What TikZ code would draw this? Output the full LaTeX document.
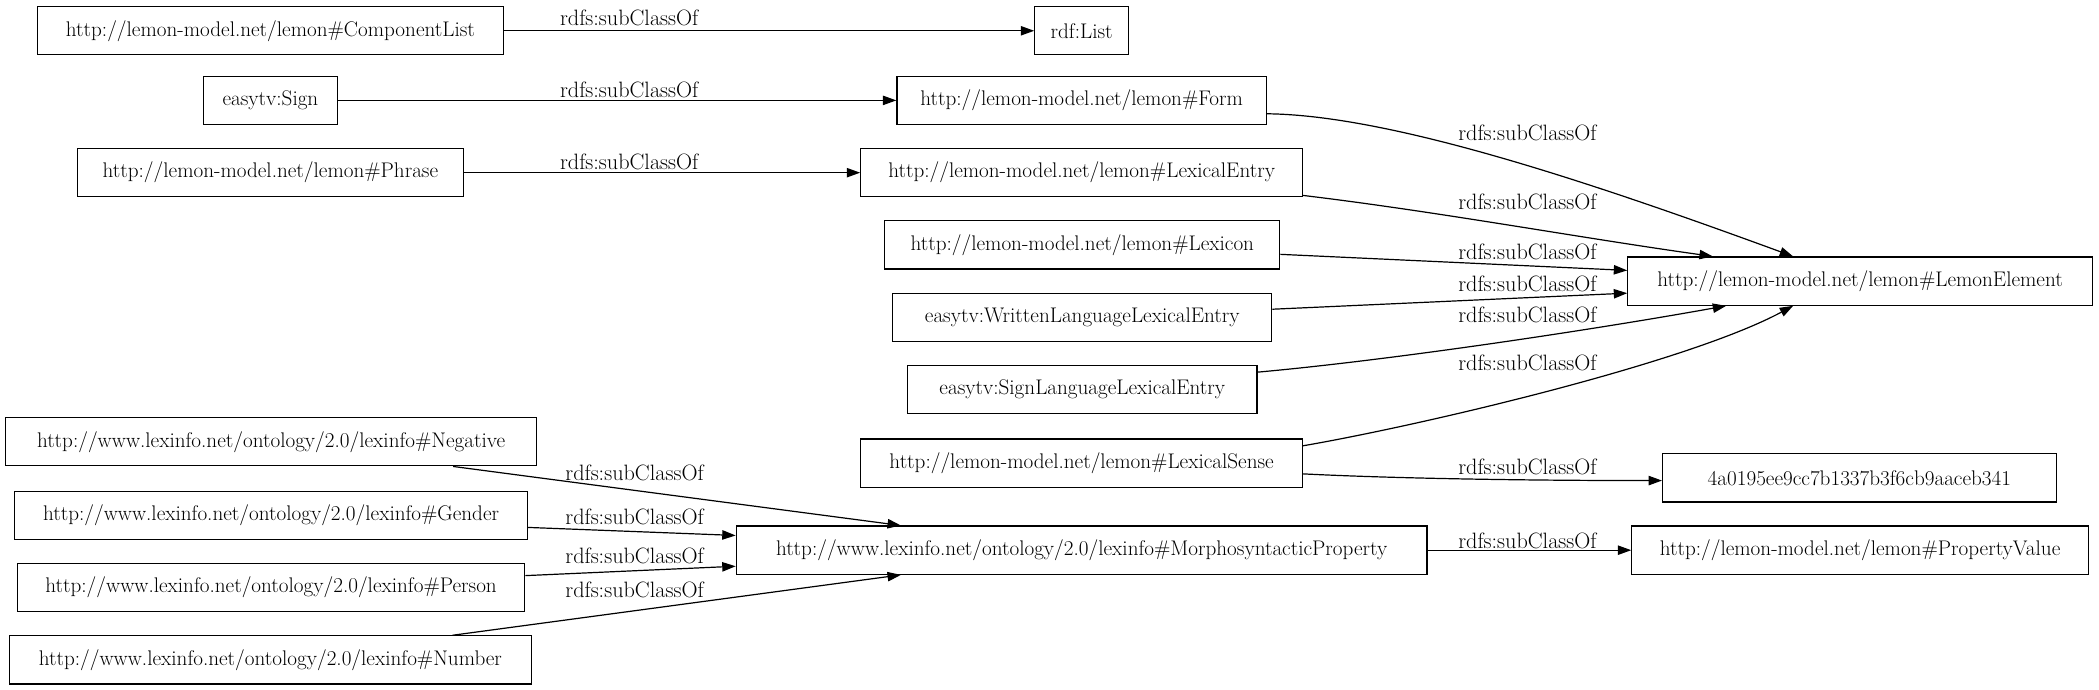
\documentclass[tikz,border=0pt]{standalone}
\usepackage{fontspec}
\usepackage{tikz}
\usetikzlibrary{arrows.meta}
\tikzset{
  cls/.style={draw,rectangle,line width=0.9pt,minimum height=36pt,inner xsep=0.5pt,inner ysep=2pt,
    font=\fontsize{15.8}{18}\selectfont},
  sub/.style={-{Triangle[length=10pt,width=7pt]},line width=0.9pt},
  lbl/.style={font=\fontsize{16.6}{18}\selectfont,inner sep=1pt},
}
\begin{document}
\begin{tikzpicture}[x=1pt,y=1pt]
  \useasboundingbox (0,0) rectangle (1568,515);
  % left column
  \node[cls,minimum width=348pt] (complist) at (202,492) {http://lemon-model.net/lemon\#ComponentList};
  \node[cls,minimum width=100pt] (sign) at (202,440) {easytv:Sign};
  \node[cls,minimum width=288pt] (phrase) at (202,386) {http://lemon-model.net/lemon\#Phrase};
  \node[cls,minimum width=397pt] (negative) at (202.5,185) {http://www.lexinfo.net/ontology/2.0/lexinfo\#Negative};
  \node[cls,minimum width=383pt] (gender) at (202.5,130) {http://www.lexinfo.net/ontology/2.0/lexinfo\#Gender};
  \node[cls,minimum width=379pt] (person) at (202.5,76) {http://www.lexinfo.net/ontology/2.0/lexinfo\#Person};
  \node[cls,minimum width=390pt] (number) at (202,22) {http://www.lexinfo.net/ontology/2.0/lexinfo\#Number};
  % middle column
  \node[cls,minimum width=70pt] (rdflist) at (808,492) {rdf:List};
  \node[cls,minimum width=276pt] (form) at (808,440) {http://lemon-model.net/lemon\#Form};
  \node[cls,minimum width=330pt] (lexentry) at (808,386) {http://lemon-model.net/lemon\#LexicalEntry};
  \node[cls,minimum width=295pt] (lexicon) at (808.5,332) {http://lemon-model.net/lemon\#Lexicon};
  \node[cls,minimum width=283pt] (written) at (808.5,278) {easytv:WrittenLanguageLexicalEntry};
  \node[cls,minimum width=261pt] (signlang) at (808.5,224) {easytv:SignLanguageLexicalEntry};
  \node[cls,minimum width=330pt] (lexsense) at (808,169) {http://lemon-model.net/lemon\#LexicalSense};
  \node[cls,minimum width=516pt] (morpho) at (808,104) {http://www.lexinfo.net/ontology/2.0/lexinfo\#MorphosyntacticProperty};
  % right column
  \node[cls,minimum width=347pt] (lemon) at (1389.5,305) {http://lemon-model.net/lemon\#LemonElement};
  \node[cls,minimum width=294pt] (hash) at (1389,158) {4a0195ee9cc7b1337b3f6cb9aaceb341};
  \node[cls,minimum width=341pt] (propval) at (1389.5,104) {http://lemon-model.net/lemon\#PropertyValue};

  \draw[sub] (complist) -- (rdflist);
  \draw[sub] (sign) -- (form);
  \draw[sub] (phrase) -- (lexentry);
  \draw[sub] ([yshift=-10pt]form.east) .. controls +(93,-1) and +(-150,55) .. ([xshift=-50pt]lemon.north);
  \draw[sub] ([yshift=-17pt]lexentry.east) .. controls +(100,-12) and +(-100,14) .. ([xshift=-110pt]lemon.north);
  \draw[sub] ([yshift=-7pt]lexicon.east) -- ([yshift=8pt]lemon.west);
  \draw[sub] ([yshift=6pt]written.east) -- ([yshift=-9pt]lemon.west);
  \draw[sub] ([yshift=13pt]signlang.east) .. controls +(100,9) and +(-100,-18) .. ([xshift=-100pt]lemon.south);
  \draw[sub] ([yshift=13pt]lexsense.east) .. controls +(87,15) and +(-80,-43) .. ([xshift=-50pt]lemon.south);
  \draw[sub] ([yshift=-8pt]lexsense.east) .. controls +(80,-4) and +(-80,0) .. ([yshift=-2pt]hash.west);
  \draw[sub] (morpho) -- (propval);
  \draw[sub] ([xshift=136pt]negative.south) -- ([xshift=-135pt]morpho.north);
  \draw[sub] ([yshift=-9pt]gender.east) -- ([yshift=11pt]morpho.west);
  \draw[sub] ([yshift=9pt]person.east) -- ([yshift=-12pt]morpho.west);
  \draw[sub] ([xshift=136pt]number.north) -- ([xshift=-135pt]morpho.south);

  % edge labels
  \node[lbl] at (470,502) {rdfs:subClassOf};
  \node[lbl] at (470,448) {rdfs:subClassOf};
  \node[lbl] at (470,394) {rdfs:subClassOf};
  \node[lbl] at (1141,416) {rdfs:subClassOf};
  \node[lbl] at (1141,364) {rdfs:subClassOf};
  \node[lbl] at (1141,327) {rdfs:subClassOf};
  \node[lbl] at (1141,303) {rdfs:subClassOf};
  \node[lbl] at (1141,280) {rdfs:subClassOf};
  \node[lbl] at (1141,244) {rdfs:subClassOf};
  \node[lbl] at (1141,166) {rdfs:subClassOf};
  \node[lbl] at (1141,111) {rdfs:subClassOf};
  \node[lbl] at (474,162) {rdfs:subClassOf};
  \node[lbl] at (474,129) {rdfs:subClassOf};
  \node[lbl] at (474,100) {rdfs:subClassOf};
  \node[lbl] at (474,74) {rdfs:subClassOf};
\end{tikzpicture}
\end{document}
